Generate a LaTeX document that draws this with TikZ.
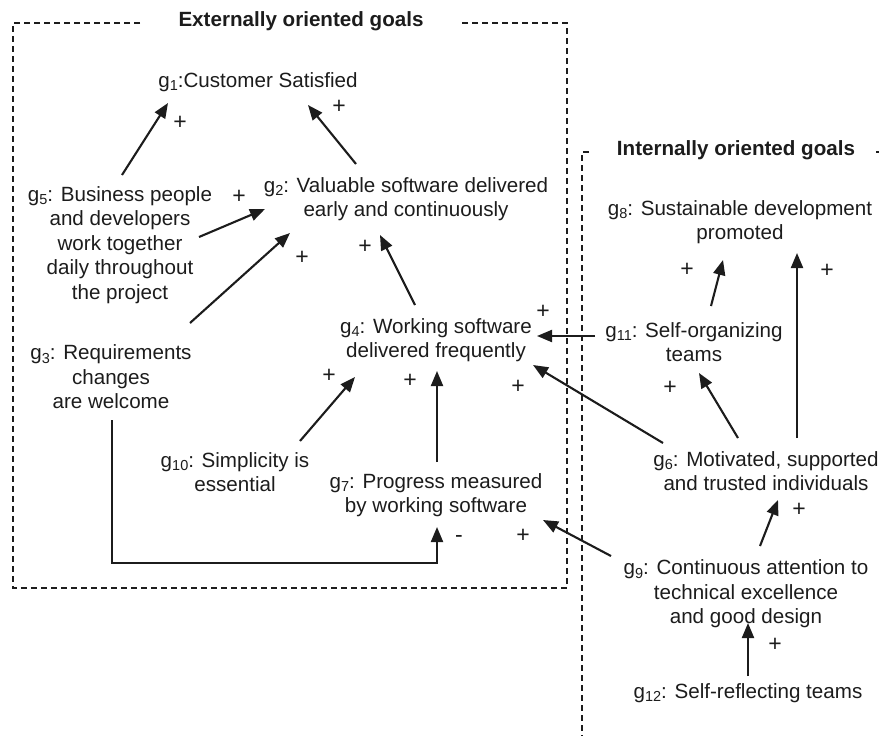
\documentclass[tikz,border=0pt]{standalone}
\usepackage{fontspec}
\setmainfont{Liberation Sans}
\usetikzlibrary{arrows.meta}
\definecolor{ink}{HTML}{1C1C1C}
\newcommand{\gsub}[1]{\raisebox{-0.32ex}{\fontsize{14.5}{14.5}\selectfont #1}}
\begin{document}
\begin{tikzpicture}[x=1pt,y=-1pt,
  goal/.style={inner sep=0pt, align=center, text=ink,
    font=\fontsize{20.6}{24.5}\selectfont},
  heading/.style={inner sep=0pt, text=ink,
    font=\fontsize{20.6}{24.5}\selectfont\bfseries},
  sign/.style={inner sep=0pt, text=ink, font=\fontsize{23}{23}\selectfont},
  link/.style={draw=ink, line width=2.1pt,
    -{Triangle[length=15pt,width=12pt]}},
  boundary/.style={draw=ink, line width=1.2pt, dash pattern=on 6pt off 4pt}]
\useasboundingbox (0,0) rectangle (880,736);

% group boundaries
\draw[boundary] (140,23) -- (13,23) -- (13,588) -- (567,588) -- (567,23) -- (459,23);
\draw[boundary] (589,152) -- (582,152) -- (582,736);
\draw[draw=ink, line width=1.2pt] (876,152) -- (879,152);

% group headings
\node[heading] (ext) at (301,21) {Externally oriented goals};
\node[heading] (int) at (736,150) {Internally oriented goals};

% goals
\node[goal] (g1) at (258,82) {g\gsub{1}:Customer Satisfied};
\node[goal] (g2) at (406,199) {g\gsub{2}: Valuable software delivered\\early and continuously};
\node[goal] (g5) at (120,245) {g\gsub{5}: Business people\\and developers\\work together\\daily throughout\\the project};
\node[goal] (g3) at (111,377) {g\gsub{3}: Requirements\\changes\\are welcome};
\node[goal] (g4) at (436,340) {g\gsub{4}: Working software\\delivered frequently};
\node[goal] (g10) at (235,472) {g\gsub{10}: Simplicity is\\essential};
\node[goal] (g7) at (436,495) {g\gsub{7}: Progress measured\\by working software};
\node[goal] (g8) at (740,222) {g\gsub{8}: Sustainable development\\promoted};
\node[goal] (g11) at (694,342) {g\gsub{11}: Self-organizing\\teams};
\node[goal] (g6) at (766,471) {g\gsub{6}: Motivated, supported\\and trusted individuals};
\node[goal] (g9) at (746,594) {g\gsub{9}: Continuous attention to\\technical excellence\\and good design};
\node[goal] (g12) at (748,693) {g\gsub{12}: Self-reflecting teams};

% contribution links
\draw[link] ([shift={(2,-70)}]g5.center) -- ([shift={(-90,21)}]g1.center);
\draw[link] ([shift={(-50,-35)}]g2.center) -- ([shift={(50,23)}]g1.center);
\draw[link] ([shift={(79,-8)}]g5.center) -- ([shift={(-141,10)}]g2.center);
\draw[link] ([shift={(79,-54)}]g3.center) -- ([shift={(-116,34)}]g2.center);
\draw[link] ([shift={(-21,-35)}]g4.center) -- ([shift={(-26,36)}]g2.center);
\draw[link] ([shift={(-99,-6)}]g11.center) -- ([shift={(101,-4)}]g4.center);
\draw[link] ([shift={(-103,-28)}]g6.center) -- ([shift={(97,25)}]g4.center);
\draw[link] ([shift={(65,-31)}]g10.center) -- ([shift={(-81,37)}]g4.center);
\draw[link] ([shift={(1,-33)}]g7.center) -- ([shift={(1,31)}]g4.center);
\draw[link] ([shift={(1,43)}]g3.center) -- ++(0,143) -| ([shift={(1,32)}]g7.center);
\draw[link] ([shift={(-135,-38)}]g9.center) -- ([shift={(107,25)}]g7.center);
\draw[link] ([shift={(17,-36)}]g11.center) -- ([shift={(-17,38)}]g8.center);
\draw[link] ([shift={(-28,-33)}]g6.center) -- ([shift={(5,31)}]g11.center);
\draw[link] ([shift={(31,-33)}]g6.center) -- ([shift={(57,31)}]g8.center);
\draw[link] ([shift={(14,-48)}]g9.center) -- ([shift={(12,29)}]g6.center);
\draw[link] ([shift={(0,-17)}]g12.center) -- ([shift={(2,29)}]g9.center);

% link signs
\node[sign] (s51) at (180,123) {+};
\node[sign] (s21) at (339,107) {+};
\node[sign] (s52) at (239,197) {+};
\node[sign] (s32) at (302,258) {+};
\node[sign] (s42) at (365,247) {+};
\node[sign] (s114) at (543,312) {+};
\node[sign] (s104) at (329,376) {+};
\node[sign] (s74) at (410,381) {+};
\node[sign] (s64) at (518,387) {+};
\node[sign] (s37) at (459,539) {-};
\node[sign] (s97) at (523,536) {+};
\node[sign] (s118) at (687,270) {+};
\node[sign] (s68) at (827,271) {+};
\node[sign] (s611) at (670,388) {+};
\node[sign] (s96) at (799,510) {+};
\node[sign] (s129) at (775,645) {+};
\end{tikzpicture}
\end{document}
